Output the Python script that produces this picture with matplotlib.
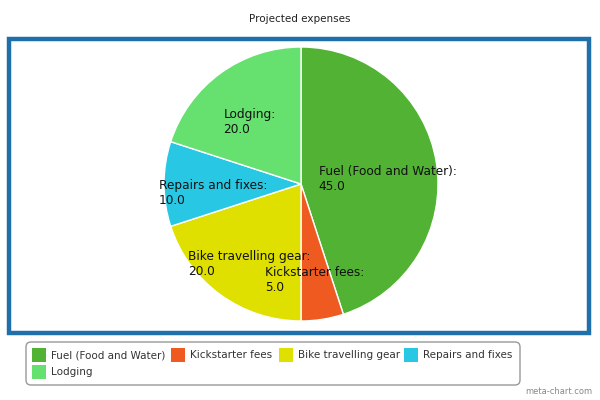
import numpy as np
import matplotlib
matplotlib.use('Agg')
import matplotlib.pyplot as plt
from matplotlib.patches import Rectangle, FancyBboxPatch

categories = ['Fuel (Food and Water)', 'Kickstarter fees', 'Bike travelling gear',
              'Repairs and fixes', 'Lodging']
values = [45.0, 5.0, 20.0, 10.0, 20.0]
colors = ['#52b233', '#ee5a1f', '#dfe000', '#28c8e4', '#66e06e']
title = 'Projected expenses'

plt.rcParams['font.family'] = ['DejaVu Sans']

fig = plt.figure(figsize=(6, 4), dpi=100)
ax = fig.add_axes([0, 0, 1, 1])

# pixel-like coordinates, y measured upward
cx, cy, R = 301, 400 - 184, 137
wedges, _ = ax.pie(values, colors=colors, startangle=90, counterclock=False,
                   center=(cx, cy), radius=R,
                   wedgeprops=dict(edgecolor='white', linewidth=1))
ax.set_xlim(0, 600)
ax.set_ylim(0, 400)
ax.axis('off')

# slice labels
for w, name, v in zip(wedges, categories, values):
    mid = np.deg2rad((w.theta1 + w.theta2) / 2)
    x = cx + 0.64 * R * np.cos(mid)
    y = cy + 0.64 * R * np.sin(mid) - 9
    ax.text(x, y, f'{name}:\n{v:.1f}', ha='center', va='center',
            multialignment='left', fontsize=8.7, color='#111111', linespacing=1.2)

# blue frame around chart
ax.add_patch(Rectangle((9, 400 - 333), 580, 294, fill=False,
                       edgecolor='#1f6fab', linewidth=3.2))

# title
ax.text(300, 400 - 19, title, ha='center', va='center', fontsize=7.5, color='#222222')

# legend
ax.add_patch(FancyBboxPatch((26, 400 - 385), 494, 43,
                            boxstyle='round,pad=0,rounding_size=5',
                            fill=False, edgecolor='#999999', linewidth=1))
leg_pos = [(32, 355), (171, 355), (279, 355), (404, 355), (32, 372)]
for (lx, ly), name, c in zip(leg_pos, categories, colors):
    ax.add_patch(Rectangle((lx, 400 - ly - 7), 14, 14, facecolor=c, edgecolor='none'))
    ax.text(lx + 19, 400 - ly, name, ha='left', va='center', fontsize=7.5, color='#333333')

ax.text(592, 400 - 392, 'meta-chart.com', ha='right', va='center', fontsize=6, color='#888888')

fig.savefig('out.png', dpi=100)
